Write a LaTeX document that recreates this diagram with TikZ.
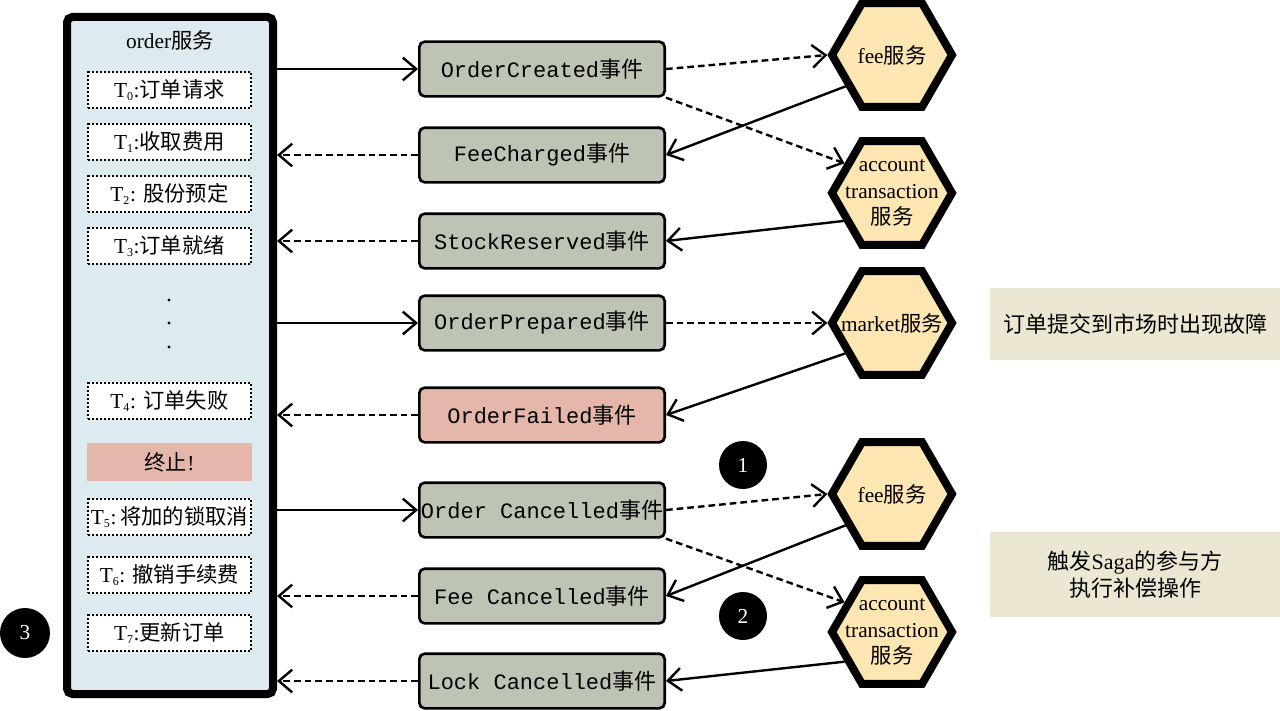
\documentclass[tikz,border=0pt]{standalone}
\usepackage{fontspec}
\setmainfont{Liberation Serif}
\setmonofont{Liberation Mono}
\newfontfamily\cjk{Noto Sans CJK SC}
\newcommand{\zh}[1]{{\cjk #1}}
\newcommand{\tsub}[1]{\textsubscript{\fontsize{9}{9}\selectfont #1}}
\usepackage{tikz}
\usetikzlibrary{arrows.meta,shapes.geometric}
\definecolor{OrderBlue}{RGB}{221,235,240}
\definecolor{EventGray}{RGB}{190,196,180}
\definecolor{FailRed}{RGB}{229,183,171}
\definecolor{HexYellow}{RGB}{253,230,178}
\definecolor{NoteBeige}{RGB}{235,231,210}
\tikzset{
  orderbox/.style={draw, line width=6pt, rounded corners=4pt, fill=OrderBlue,
    minimum width=154.5pt, minimum height=507.75pt},
  svctext/.style={font=\fontsize{16}{20}\selectfont},
  stepbox/.style={draw, line width=1.5pt, dash pattern=on 1.5pt off 1.5pt, fill=white,
    minimum width=122pt, minimum height=27pt, inner sep=0pt, font=\fontsize{16}{20}\selectfont},
  stopbox/.style={fill=FailRed, minimum width=123.75pt, minimum height=28.5pt, inner sep=0pt,
    font=\fontsize{16}{20}\selectfont},
  eventbox/.style={draw, line width=2pt, rounded corners=4pt, fill=EventGray,
    minimum width=184pt, minimum height=41pt, inner xsep=1pt,
    font=\fontsize{16.5}{20}\selectfont\ttfamily},
  failbox/.style={eventbox, fill=FailRed},
  hexsvc/.style={draw, regular polygon, regular polygon sides=6, line width=6pt,
    fill=HexYellow, minimum size=90pt, inner sep=0pt},
  hextext/.style={align=center, inner sep=0pt, font=\fontsize{16}{20}\selectfont},
  markcirc/.style={circle, fill=black, text=white, minimum size=36pt, inner sep=0pt,
    font=\fontsize{16}{20}\selectfont},
  notebox/.style={fill=NoteBeige, minimum width=217.5pt, align=center,
    font=\fontsize{16.5}{20}\selectfont},
  conn/.style={line width=1.8pt, -{Straight Barb[length=10pt,width=17pt]}},
  dashline/.style={dash pattern=on 5pt off 3pt}
}
\begin{document}
\begin{tikzpicture}[x=0.75pt,y=-0.75pt]
    \useasboundingbox (0,0) rectangle (1280,710);
    %%order service
    \node[orderbox] (order) at (170,355.5) {};
    \node[svctext] (ordertitle) at (170,40) {order\zh{服务}};
    \foreach \n/\y/\txt in {0/90/{T\tsub{0}:\zh{订单请求}},
                            1/142/{T\tsub{1}:\zh{收取费用}},
                            2/194/{T\tsub{2}: \zh{股份预定}},
                            3/246/{T\tsub{3}:\zh{订单就绪}},
                            4/401/{T\tsub{4}: \zh{订单失败}},
                            5/517/{T\tsub{5}:\,\zh{将加的锁取消}},
                            6/575/{T\tsub{6}: \zh{撤销手续费}},
                            7/633/{T\tsub{7}:\zh{更新订单}}}
    {
    \node[stepbox] (t\n) at (169.5,\y) {\txt};
    }
    \node[stopbox] (stop) at (169.5,462) {\zh{终止}!};
    \foreach \y in {300,323,347}
    {
    \fill (169,\y) circle (1.3pt);
    }
    %%events
    \foreach \n/\y/\sty/\txt in {1/69/eventbox/OrderCreated,
                                 2/155/eventbox/FeeCharged,
                                 3/241/eventbox/StockReserved,
                                 4/323/eventbox/OrderPrepared,
                                 5/415/failbox/OrderFailed,
                                 6/510/eventbox/{Order Cancelled},
                                 7/596/eventbox/{Fee Cancelled},
                                 8/681/eventbox/{Lock Cancelled}}
    {
    \node[\sty] (ev\n) at (542,\y) {\txt\zh{事件}};
    }
    %%services
    \node[hexsvc, label={[hextext]center:fee\zh{服务}}] (fee1) at (892,55) {};
    \node[hexsvc, label={[hextext]center:account\\transaction\\\zh{服务}}] (acct1) at (892,193) {};
    \node[hexsvc, label={[hextext]center:market\zh{服务}}] (market) at (892,323) {};
    \node[hexsvc, label={[hextext]center:fee\zh{服务}}] (fee2) at (892,494) {};
    \node[hexsvc, label={[hextext]center:account\\transaction\\\zh{服务}}] (acct2) at (892,632) {};
    %%connectors
    \foreach \e in {ev1,ev4,ev6}
    {
    \draw[conn] (\e.west -| order.east) -- (\e.west);
    }
    \foreach \e in {ev2,ev3,ev5,ev7,ev8}
    {
    \draw[conn, dashline] (\e.west) -- (\e.west -| order.east);
    }
    \draw[conn, dashline] (ev1.east) -- (fee1.west);
    \draw[conn, dashline] (ev1.south east) -- (acct1.148);
    \draw[conn] (fee1.214) -- (ev2.east);
    \draw[conn] (acct1.210) -- (ev3.east);
    \draw[conn, dashline] (ev4.east) -- (market.west);
    \draw[conn] (market.213) -- (ev5.east);
    \draw[conn, dashline] (ev6.east) -- (fee2.west);
    \draw[conn, dashline] (ev6.south east) -- (acct2.148);
    \draw[conn] (fee2.214) -- (ev7.east);
    \draw[conn] (acct2.212) -- (ev8.east);
    %%marks and notes
    \node[markcirc] (m1) at (743,465) {1};
    \node[markcirc] (m2) at (743,616) {2};
    \node[markcirc, minimum size=37.5pt] (m3) at (25,633) {3};
    \node[notebox, minimum height=54pt] (note1) at (1135,324) {\zh{订单提交到市场时出现故障}};
    \node[notebox, minimum height=64pt] (note2) at (1135,574.5) {\zh{触发}Saga\zh{的参与方}\\\zh{执行补偿操作}};
\end{tikzpicture}
\end{document}
